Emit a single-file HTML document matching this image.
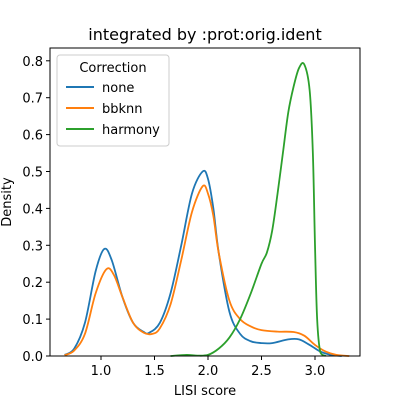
<!DOCTYPE html>
<html><head><meta charset="utf-8"><style>
body{margin:0;background:#fff}
text{font-family:"DejaVu Sans","Liberation Sans",sans-serif;fill:#000}
</style></head><body>
<svg id="chart" width="400" height="400">
<rect x="0" y="0" width="400" height="400" fill="#fff"/>
<text x="205" y="40" font-size="16" text-anchor="middle">integrated by :prot:orig.ident</text>
<g id="plot"></g>
<rect x="50" y="48" width="310" height="308" fill="none" stroke="#000" stroke-width="1"/>
<text x="205" y="395" font-size="13" text-anchor="middle">LISI score</text>
<text x="0" y="0" font-size="13" text-anchor="middle" transform="translate(11,202) rotate(-90)">Density</text>
<g>
<rect x="57" y="55" width="112" height="91" rx="3" fill="#fff" fill-opacity="0.8" stroke="#ccc"/>
<text x="113" y="72" font-size="13" text-anchor="middle">Correction</text>
<line x1="66" y1="87" x2="94" y2="87" stroke="#1f77b4" stroke-width="2"/>
<text x="102" y="92" font-size="13">none</text>
<line x1="66" y1="108" x2="94" y2="108" stroke="#ff7f0e" stroke-width="2"/>
<text x="102" y="113" font-size="13">bbknn</text>
<line x1="66" y1="129" x2="94" y2="129" stroke="#2ca02c" stroke-width="2"/>
<text x="102" y="134" font-size="13">harmony</text>
</g>
</svg>
<script>
const xTicks=[1.0,1.5,2.0,2.5,3.0];
const yTicks=[0.0,0.1,0.2,0.3,0.4,0.5,0.6,0.7,0.8];
const noneX=[0.66,0.75,0.85,0.95,1.03,1.1,1.2,1.3,1.4,1.45,1.55,1.65,1.75,1.85,1.95,2.0,2.05,2.1,2.2,2.3,2.4,2.5,2.6,2.75,2.85,2.95,3.05,3.15,3.25];
const noneY=[0.003,0.02,0.09,0.23,0.29,0.26,0.16,0.09,0.065,0.063,0.09,0.17,0.30,0.44,0.50,0.48,0.40,0.28,0.12,0.06,0.04,0.035,0.035,0.045,0.045,0.03,0.012,0.003,0];
const bbknnX=[0.66,0.75,0.85,0.95,1.05,1.12,1.2,1.3,1.4,1.48,1.55,1.65,1.75,1.85,1.95,2.0,2.05,2.1,2.2,2.3,2.4,2.5,2.65,2.8,2.9,3.0,3.1,3.2,3.32];
const bbknnY=[0.002,0.015,0.06,0.17,0.235,0.22,0.16,0.09,0.063,0.06,0.075,0.14,0.26,0.39,0.46,0.44,0.38,0.28,0.15,0.10,0.08,0.07,0.066,0.065,0.055,0.03,0.012,0.003,0];
const harmonyX=[1.65,1.8,1.9,2.0,2.1,2.2,2.3,2.4,2.5,2.55,2.6,2.65,2.7,2.75,2.8,2.85,2.9,2.95,2.98,3.0,3.02,3.05,3.1];
const harmonyY=[0,0.003,0.001,0.003,0.02,0.05,0.1,0.17,0.25,0.28,0.34,0.44,0.55,0.66,0.73,0.78,0.79,0.72,0.55,0.3,0.1,0.01,0];
const ns="http://www.w3.org/2000/svg";
const sx=v=>101+(v-1)*107;
const sy=v=>356-v*369;
const g=document.getElementById('plot');
function mk(t,a){const e=document.createElementNS(ns,t);for(const k in a)e.setAttribute(k,a[k]);g.appendChild(e);return e;}
xTicks.forEach(t=>{
 const l=mk('line',{x1:sx(t),x2:sx(t),y1:356,y2:360,stroke:'#000'});
 
 
 const tx=mk('text',{x:sx(t),y:375,'font-size':13,'text-anchor':'middle'});tx.textContent=t.toFixed(1);
 
 
});
yTicks.forEach(t=>{
 const l=mk('line',{x1:46,x2:50,y1:sy(t),y2:sy(t),stroke:'#000'});
 
 
 const tx=mk('text',{x:43,y:sy(t)+5,'font-size':13,'text-anchor':'end'});tx.textContent=t.toFixed(1);
 
 
});
function path(xs,ys){
 const p=xs.map((x,i)=>[sx(x),sy(ys[i])]);
 let d='M'+p[0][0]+','+p[0][1];
 for(let i=0;i<p.length-1;i++){
  const p0=p[i-1]||p[i],p1=p[i],p2=p[i+1],p3=p[i+2]||p2;
  const c1=[p1[0]+(p2[0]-p0[0])/6,p1[1]+(p2[1]-p0[1])/6];
  const c2=[p2[0]-(p3[0]-p1[0])/6,p2[1]-(p3[1]-p1[1])/6];
  d+=`C${c1[0]},${Math.min(356,c1[1])},${c2[0]},${Math.min(356,c2[1])},${p2[0]},${p2[1]}`;
 }
 return d;
}
const s1=mk('path',{d:path(noneX,noneY),fill:'none',stroke:'#1f77b4','stroke-width':1.8});


const s2=mk('path',{d:path(bbknnX,bbknnY),fill:'none',stroke:'#ff7f0e','stroke-width':1.8});


const s3=mk('path',{d:path(harmonyX,harmonyY),fill:'none',stroke:'#2ca02c','stroke-width':1.8});


</script>
</body></html>
